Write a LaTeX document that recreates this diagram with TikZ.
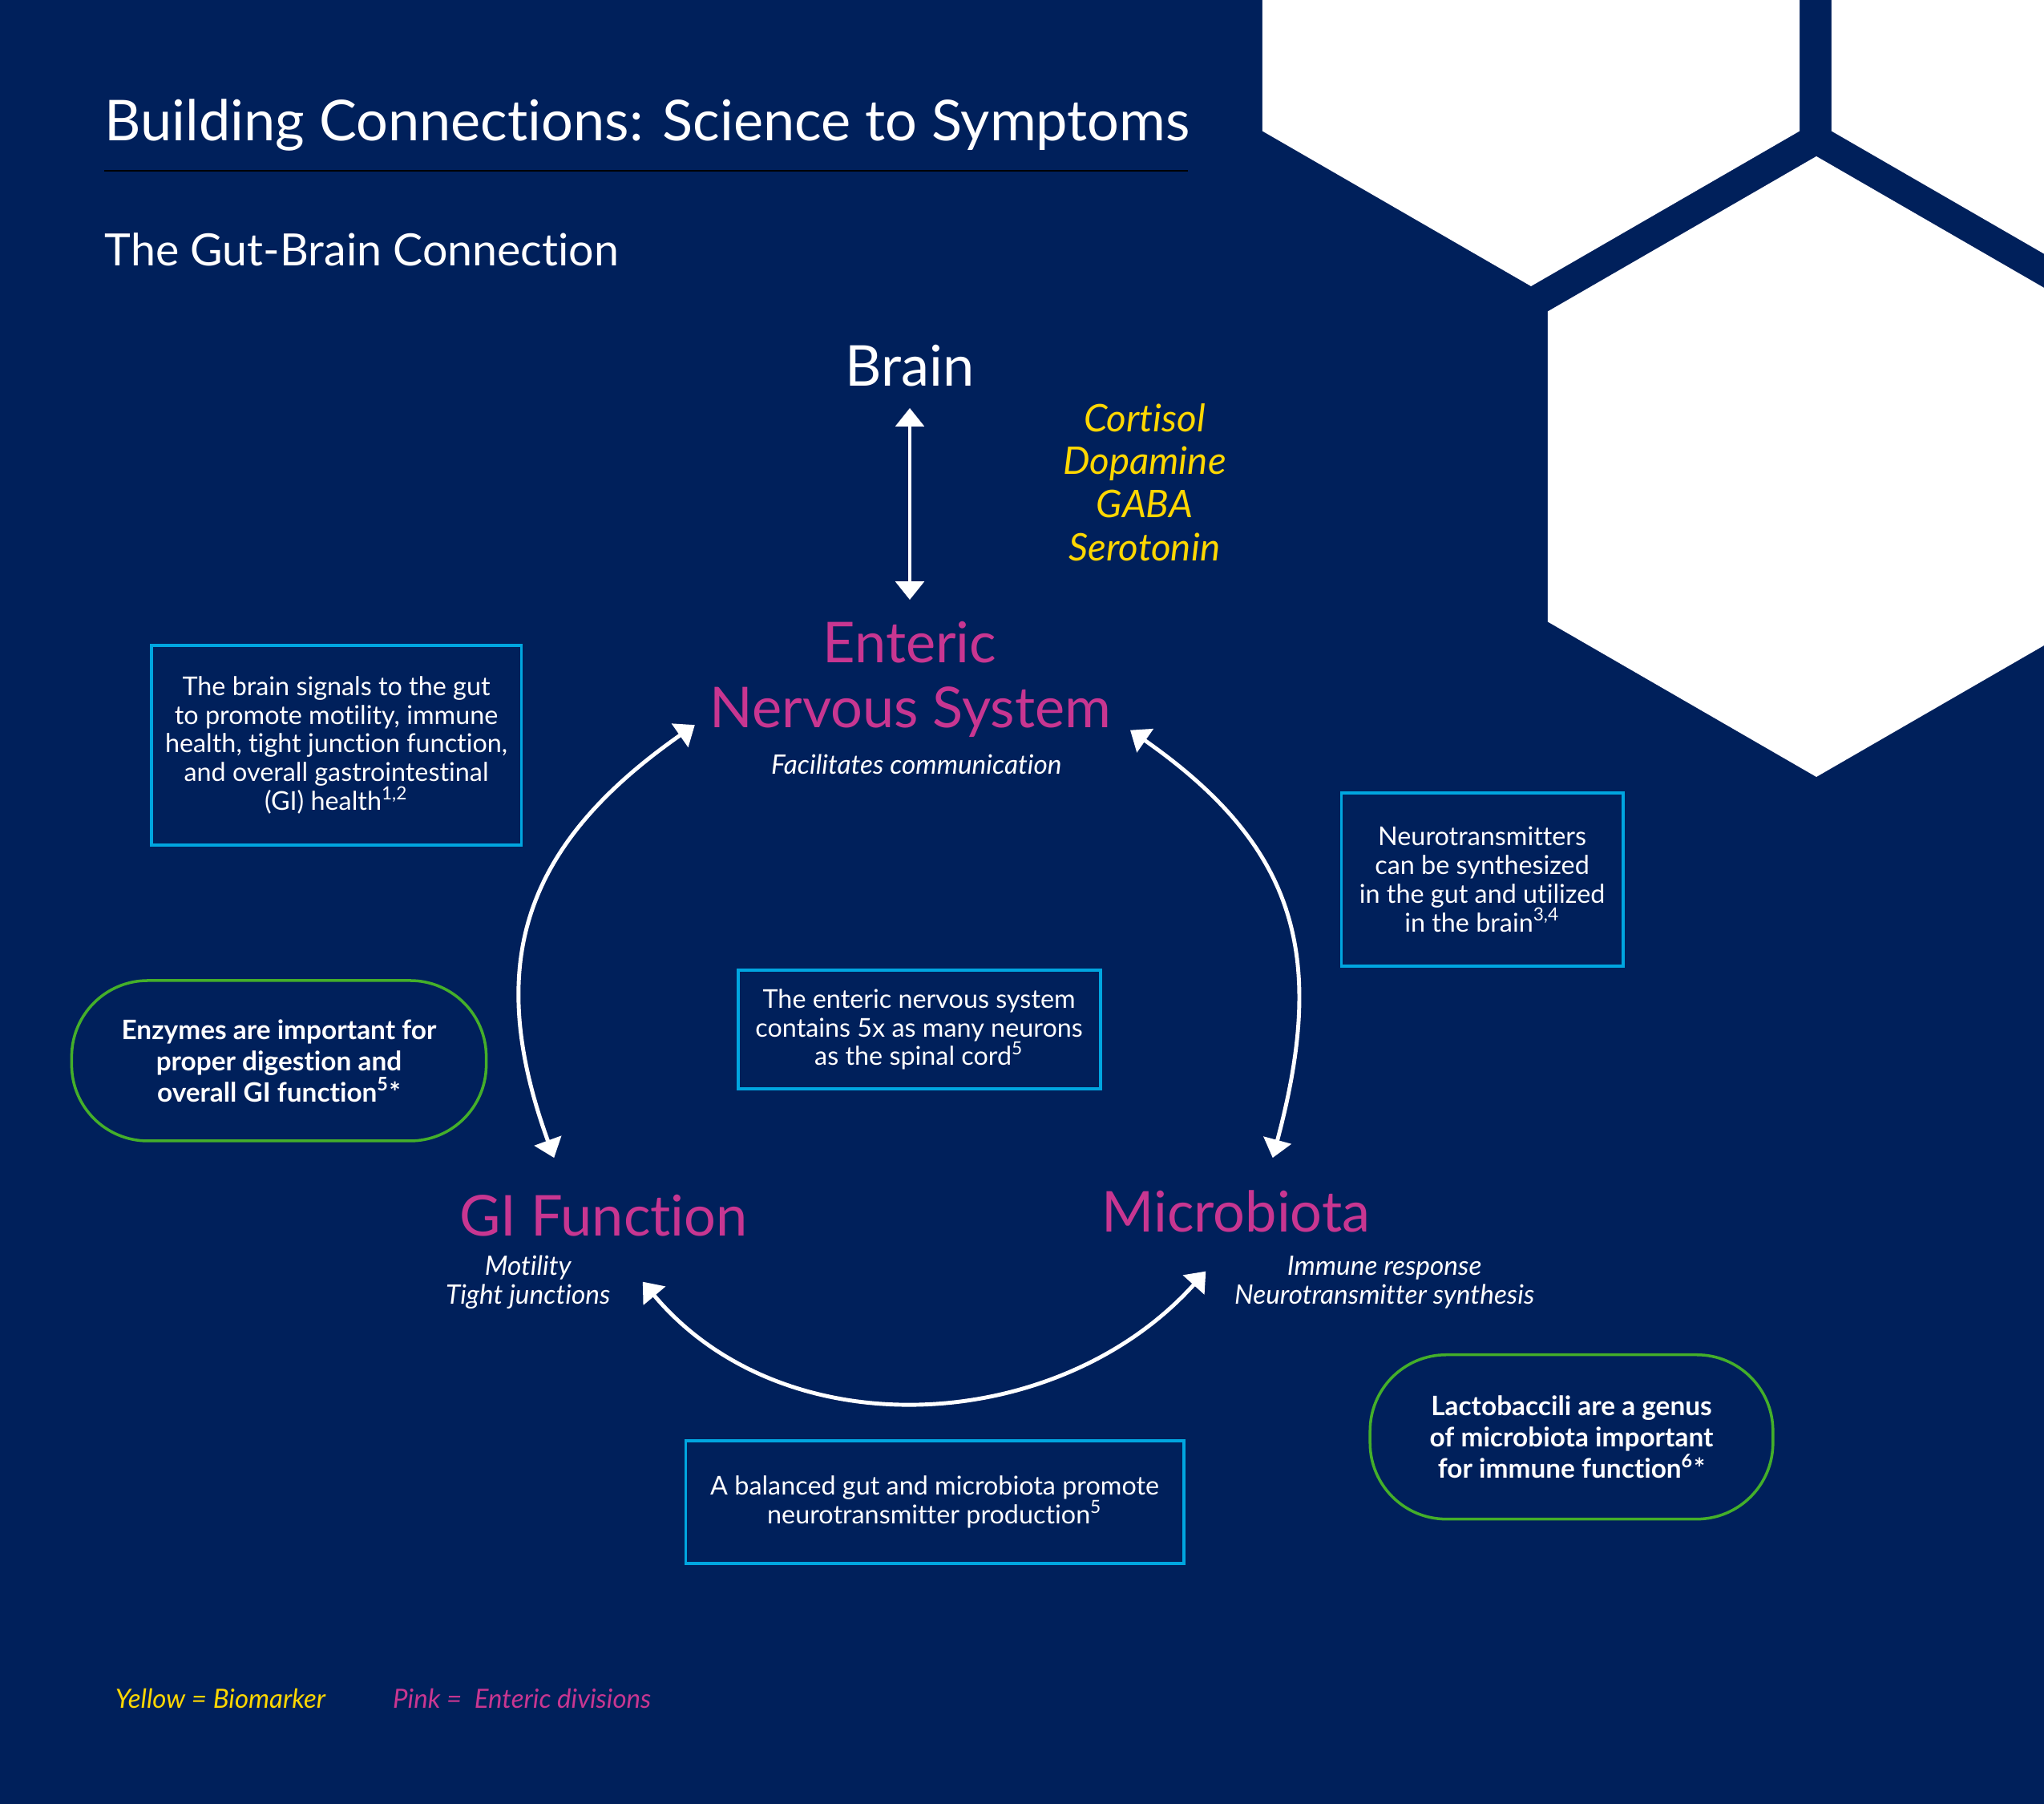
\documentclass[tikz,border=0pt]{standalone}
\usepackage{fontspec}
\setmainfont{Lato}[Ligatures=NoCommon]
\usetikzlibrary{arrows.meta, positioning}
\definecolor{navy}{RGB}{0,32,91}
\definecolor{boxblue}{RGB}{0,166,224}
\definecolor{pillgreen}{RGB}{68,175,42}
\definecolor{divpink}{RGB}{200,54,145}
\definecolor{markyellow}{RGB}{255,215,0}

\begin{document}
\begin{tikzpicture}[
    >={Triangle[width=10pt,length=6.5pt]},
    lbl/.style={font=\fontsize{20}{24}\selectfont, anchor=base},
    sub/.style={font=\itshape\fontsize{9.5}{11}\selectfont, text=white, anchor=base},
    marker/.style={font=\itshape\fontsize{13.5}{15.4}\selectfont, text=markyellow, anchor=base},
    bluebox/.style={draw=boxblue, line width=1.1pt, align=center, text=white, inner sep=0pt,
        font=\fontsize{9.2}{10.2}\selectfont},
    pill/.style={draw=pillgreen, line width=1pt, rounded corners=0.95cm, align=center, text=white,
        inner sep=0pt, font=\bfseries\fontsize{9.5}{11.1}\selectfont},
    keytext/.style={font=\itshape\fontsize{9.4}{11}\selectfont, anchor=base west, inner sep=0pt},
    biarrow/.style={<->, white, line width=1.4pt}]
    \clip (0,0) rectangle (25.5,22.5);
    \fill[navy] (0,0) rectangle (25.5,22.5);
    \foreach \cx/\cy in {19.10/22.80, 26.20/22.80, 22.66/16.68}
        \fill[white, shift={(\cx,\cy)}] (90:3.87) -- (30:3.87) -- (-30:3.87) -- (-90:3.87) -- (-150:3.87) -- (150:3.87) -- cycle;

    \node[anchor=base west, inner sep=0pt, text=white, font=\fontsize{20}{24}\selectfont] (title) at (1.301,20.744) {Building Connections: Science to Symptoms};
    \draw[black, line width=0.6pt] (1.301,20.370) -- (14.816,20.370);
    \node[anchor=base west, inner sep=0pt, text=white, font=\fontsize{15.8}{18}\selectfont] (subtitle) at (1.301,19.182) {The Gut-Brain Connection};

    \node[lbl, text=white] (brain) at (11.35,17.686) {Brain};
    \foreach \w [count=\i] in {Cortisol,Dopamine,GABA,Serotonin}
        \node[marker] (bm\i) at (14.279,{17.117-0.537*(\i-1)}) {\w};
    \node[lbl, text=divpink] (ens1) at (11.35,14.238) {Enteric};
    \node[lbl, text=divpink] (ens2) at (11.36,13.425) {Nervous System};
    \node[sub] (enssub) at (11.433,12.840) {Facilitates communication};
    \node[lbl, text=divpink] (gi) at (7.530,7.083) {GI Function};
    \node[sub] (gisub1) at (6.587,6.595) {Motility};
    \node[sub] (gisub2) at (6.587,6.237) {Tight junctions};
    \node[lbl, text=divpink] (mic) at (15.417,7.131) {Microbiota};
    \node[sub] (micsub1) at (17.271,6.595) {Immune response};
    \node[sub] (micsub2) at (17.271,6.237) {Neurotransmitter synthesis};

    \node[bluebox, minimum width=4.618cm, minimum height=2.488cm] (note1) at (4.196,13.206) {The brain signals to the gut\\to promote motility, immune\\health, tight junction function,\\and overall gastrointestinal\\(GI) health\textsuperscript{1,2}};
    \node[bluebox, minimum width=3.512cm, minimum height=2.163cm] (note2) at (18.491,11.530) {Neurotransmitters\\can be synthesized\\in the gut and utilized\\in the brain\textsuperscript{3,4}};
    \node[bluebox, minimum width=4.521cm, minimum height=1.480cm] (note3) at (11.466,9.660) {The enteric nervous system\\contains 5x as many neurons\\as the spinal cord\textsuperscript{5}};
    \node[bluebox, minimum width=6.213cm, minimum height=1.528cm] (note4) at (11.661,3.765) {A balanced gut and microbiota promote\\neurotransmitter production\textsuperscript{5}};
    \node[pill, minimum width=5.172cm, minimum height=2.000cm] (enzymes) at (3.480,9.270) {Enzymes are important for\\proper digestion and\\overall GI function\textsuperscript{5}*};
    \node[pill, minimum width=5.026cm, minimum height=2.049cm] (lacto) at (19.605,4.578) {Lactobaccili are a genus\\of microbiota important\\for immune function\textsuperscript{6}*};

    \node[keytext, text=markyellow] (key1) at (1.431,1.195) {Yellow = Biomarker};
    \node[keytext, text=divpink] (key2) at (4.895,1.195) {Pink = \ Enteric divisions};

    \draw[biarrow] ([yshift=-0.276cm]brain.base) -- ([yshift=0.781cm]ens1.base);
    \draw[biarrow] ([shift={(-2.692,0.033)}]ens2.base) to[out=215, in=110, looseness=1.17] ([shift={(-0.618,0.976)}]gi.base);
    \draw[biarrow] ([shift={(2.740,-0.032)}]ens2.base) to[out=-35, in=75, looseness=1.17] ([shift={(0.460,0.928)}]mic.base);
    \draw[biarrow] ([shift={(0.488,-0.570)}]gi.base) to[out=-50, in=-132] ([shift={(-0.374,-0.487)}]mic.base);
\end{tikzpicture}
\end{document}
